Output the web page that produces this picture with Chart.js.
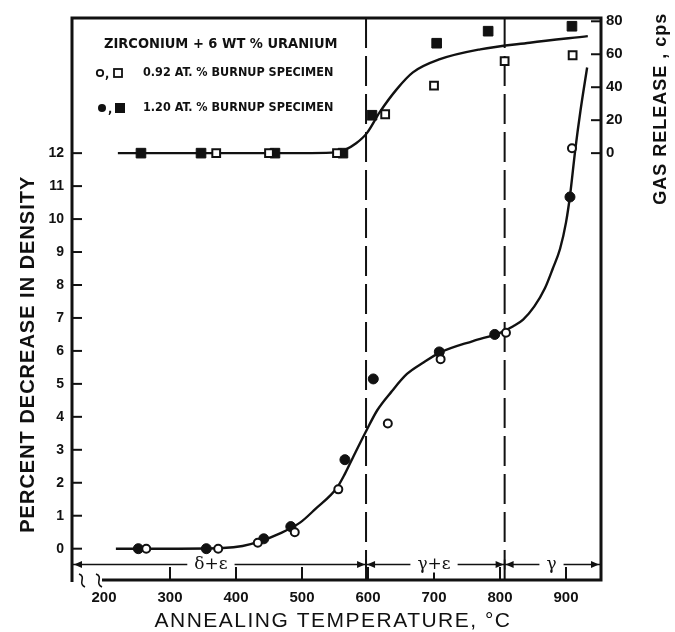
<!DOCTYPE html>
<html>
<head>
<meta charset="utf-8">
<script src="https://cdn.jsdelivr.net/npm/chart.js@4.4.0/dist/chart.umd.min.js"></script>
<style>
html,body{margin:0;padding:0;background:#fff;}
#wrap{width:675px;height:632px;}
</style>
</head>
<body>
<div id="wrap"><canvas id="chart" width="675" height="632"></canvas></div>
<script>
/* ===== DATA ===== */
const tempTicks = [200,300,400,500,600,700,800,900];
const densityTicks = [0,1,2,3,4,5,6,7,8,9,10,11,12];
const gasTicks = [0,20,40,60,80];

// 0.92 at.% burnup, density (open circles)
const openCircleT = [264,373,433,489,555,630,710,809,909];
const openCircleD = [0,0,0.18,0.5,1.8,3.8,5.75,6.55,12.15];
// 1.20 at.% burnup, density (filled circles)
const filledCircleT = [252,355,442,483,565,608,708,792,906];
const filledCircleD = [0,0,0.3,0.67,2.7,5.15,5.97,6.5,10.67];

// gas release, cps (open / filled squares)
const openSquareT = [370,450,553,626,700,807,910];
const openSquareG = [0,0,0,23.6,41,55.8,59.4];
const filledSquareT = [256,347,459,562,606,704,782,909];
const filledSquareG = [0,0,0,0,23,66.7,74,77];

// hand drawn curves
const densityCurveT = [218,300,380,410,436,465,497,520,553,565,577,598,614,635,659,684,709,759,800,820,835,852,868,880,891,900,906,914,922,932];
const densityCurveD = [0,0,0.02,0.08,0.22,0.45,0.79,1.2,1.85,2.27,2.76,3.6,4.2,4.75,5.3,5.65,5.95,6.3,6.55,6.75,6.95,7.35,7.9,8.5,9.1,9.9,10.7,12.1,13.3,14.6];
const gasCurveT = [221,300,400,500,545,565,582,598,618,644,668,709,770,845,933];
const gasCurveG = [0,0,0,0,0.3,2,6,12,25,39,49,57,63,67,71];

// phase regions
const phaseBounds = [597,807];
const phaseLabels = ["δ+ε","γ+ε","γ"];
const phaseLabelT = [362,700,878];
const phaseLineD = -0.48;

const legendTitle = "ZIRCONIUM + 6 WT % URANIUM";
const legendRows = ["0.92 AT. % BURNUP SPECIMEN","1.20 AT. % BURNUP SPECIMEN"];

/* ===== HELPERS ===== */
const INK = "#111";
const D_MIN = -0.95, D_MAX = 16.1;
const pts = (xs,ys)=>xs.map((v,i)=>({x:v,y:ys[i]}));
const cond = "'DejaVu Sans Condensed','DejaVu Sans',sans-serif";

function seg(ctx,x1,y1,x2,y2){
    ctx.beginPath(); ctx.moveTo(x1,y1); ctx.lineTo(x2,y2); ctx.stroke();
}
function arrowHead(ctx,x,y,dir){
    ctx.beginPath();
    ctx.moveTo(x,y);
    ctx.lineTo(x-dir*8,y-3.5);
    ctx.lineTo(x-dir*8,y+3.5);
    ctx.closePath(); ctx.fill();
}

const paperPlugin = {
    id:"paper",
    afterDraw(chart){
        const {ctx, chartArea:a, scales:{x,y,y2}} = chart;
        ctx.save();
        ctx.strokeStyle = INK; ctx.fillStyle = INK;

        /* frame */
        ctx.lineWidth = 3;
        ctx.beginPath();
        ctx.moveTo(a.left,a.bottom+2);
        ctx.lineTo(a.left,a.top);
        ctx.lineTo(a.right,a.top);
        ctx.lineTo(a.right,a.bottom);
        ctx.lineTo(a.left+30,a.bottom);
        ctx.stroke();

        /* axis break marks */
        ctx.lineWidth = 1.6;
        [a.left+10,a.left+27].forEach(bx=>{
            ctx.beginPath();
            ctx.moveTo(bx-3,a.bottom-6);
            ctx.bezierCurveTo(bx+5,a.bottom-3,bx-5,a.bottom+3,bx+3,a.bottom+7);
            ctx.stroke();
        });

        /* inward ticks */
        ctx.lineWidth = 2;
        densityTicks.forEach(v=>{const p=y.getPixelForValue(v); seg(ctx,a.left,p,a.left+10,p);});
        gasTicks.forEach(v=>{const p=y2.getPixelForValue(v); seg(ctx,a.right-10,p,a.right,p);});
        tempTicks.slice(1).forEach(v=>{const p=x.getPixelForValue(v); seg(ctx,p,a.bottom-13,p,a.bottom);});

        /* phase arrows */
        const py = y.getPixelForValue(phaseLineD);
        const bounds = [x.min,...phaseBounds,x.max];
        ctx.lineWidth = 1.6;
        seg(ctx,a.left,py,a.right,py);
        for(let i=0;i<bounds.length-1;i++){
            const l = x.getPixelForValue(bounds[i]) + (i===0?2:1);
            const r = x.getPixelForValue(bounds[i+1]) - (i===bounds.length-2?2:1);
            arrowHead(ctx,l,py,-1);
            arrowHead(ctx,r,py,1);
        }
        phaseBounds.forEach(v=>{const p=x.getPixelForValue(v); seg(ctx,p,py-5,p,py+5);});
        ctx.font = "17px 'DejaVu Serif',serif";
        ctx.textAlign = "center"; ctx.textBaseline = "middle";
        phaseLabels.forEach((t,i)=>{
            const p = x.getPixelForValue(phaseLabelT[i]);
            const w = ctx.measureText(t).width + 14;
            ctx.fillStyle = "#fff"; ctx.fillRect(p-w/2,py-8,w,16);
            ctx.fillStyle = INK; ctx.fillText(t,p,py);
        });

        /* legend text block */
        ctx.textAlign = "left";
        ctx.font = "bold 14.5px " + cond;
        ctx.fillText(legendTitle,104,44);
        ctx.font = "bold 12.5px " + cond;
        ctx.fillText(legendRows[0],143,73);
        ctx.fillText(legendRows[1],143,108);
        ctx.lineWidth = 1.8;
        // row 1 markers: open circle, open square
        ctx.beginPath(); ctx.arc(100,73,3.2,0,Math.PI*2); ctx.stroke();
        ctx.fillText(",",105,75);
        ctx.strokeRect(114,69,8,8);
        // row 2 markers: filled circle, filled square
        ctx.beginPath(); ctx.arc(102,108,4,0,Math.PI*2); ctx.fill();
        ctx.fillText(",",108,110);
        ctx.fillRect(115,103,10,10);

        /* axis titles */
        ctx.textAlign = "center"; ctx.textBaseline = "middle";
        ctx.font = "21px 'Liberation Sans',Arial,sans-serif";
        ctx.letterSpacing = "1.5px";
        ctx.fillText("ANNEALING TEMPERATURE, °C",333,621);

        ctx.save();
        ctx.translate(28,y.getPixelForValue(5.9));
        ctx.rotate(-Math.PI/2);
        ctx.font = "bold 20px 'Liberation Sans',Arial,sans-serif";
        ctx.letterSpacing = "1px";
        ctx.fillText("PERCENT DECREASE IN DENSITY",0,0);
        ctx.restore();

        ctx.save();
        ctx.translate(661,y2.getPixelForValue(27));
        ctx.rotate(-Math.PI/2);
        ctx.font = "bold 18px 'Liberation Sans',Arial,sans-serif";
        ctx.letterSpacing = "1px";
        ctx.fillText("GAS RELEASE , cps",0,0);
        ctx.restore();

        ctx.restore();
    }
};

const tickFont = {family:"'Liberation Sans',Arial,sans-serif",size:15,weight:"bold"};

new Chart(document.getElementById("chart"),{
    type:"scatter",
    data:{
        datasets:[
            {data:pts(openCircleT,openCircleD),yAxisID:"y",pointStyle:"circle",pointRadius:4,
             borderWidth:2,borderColor:INK,backgroundColor:"#fff"},
            {data:pts(filledCircleT,filledCircleD),yAxisID:"y",pointStyle:"circle",pointRadius:5,
             borderWidth:1,borderColor:INK,backgroundColor:INK},
            {data:pts(openSquareT,openSquareG),yAxisID:"y2",pointStyle:"rect",pointRadius:5.5,
             borderWidth:2,borderColor:INK,backgroundColor:"#fff"},
            {data:pts(filledSquareT,filledSquareG),yAxisID:"y2",pointStyle:"rect",pointRadius:6.8,
             borderWidth:1,borderColor:INK,backgroundColor:INK},
            {data:pts(densityCurveT,densityCurveD),yAxisID:"y",showLine:true,pointRadius:0,
             borderColor:INK,borderWidth:2.4,cubicInterpolationMode:"monotone"},
            {data:pts(gasCurveT,gasCurveG),yAxisID:"y2",showLine:true,pointRadius:0,
             borderColor:INK,borderWidth:2.4,cubicInterpolationMode:"monotone"},
            ...phaseBounds.map(t=>({
                data:[{x:t,y:D_MIN},{x:t,y:D_MAX}],yAxisID:"y",showLine:true,pointRadius:0,
                borderColor:INK,borderWidth:2,borderDash:[30,8]
            }))
        ]
    },
    options:{
        responsive:false,
        animation:false,
        clip:false,
        layout:{padding:{top:18,left:0,right:0,bottom:0}},
        plugins:{legend:{display:false},tooltip:{enabled:false}},
        scales:{
            x:{
                type:"linear",min:151.5,max:953,
                grid:{display:false,drawTicks:false},border:{display:false},
                afterBuildTicks:s=>{s.ticks=tempTicks.map(v=>({value:v}));},
                afterFit:s=>{s.height=52;},
                ticks:{padding:9,color:INK,font:tickFont}
            },
            y:{
                type:"linear",position:"left",min:D_MIN,max:D_MAX,
                grid:{display:false,drawTicks:false},border:{display:false},
                afterBuildTicks:s=>{s.ticks=densityTicks.map(v=>({value:v}));},
                afterFit:s=>{s.width=72;},
                ticks:{padding:8,color:INK,font:{...tickFont,size:14}}
            },
            y2:{
                type:"linear",position:"right",min:(D_MIN-12)*20,max:(D_MAX-12)*20,
                grid:{display:false,drawTicks:false},border:{display:false},
                afterBuildTicks:s=>{s.ticks=gasTicks.map(v=>({value:v}));},
                afterFit:s=>{s.width=74;},
                ticks:{padding:5,color:INK,font:tickFont}
            }
        }
    },
    plugins:[paperPlugin]
});
</script>
</body>
</html>
